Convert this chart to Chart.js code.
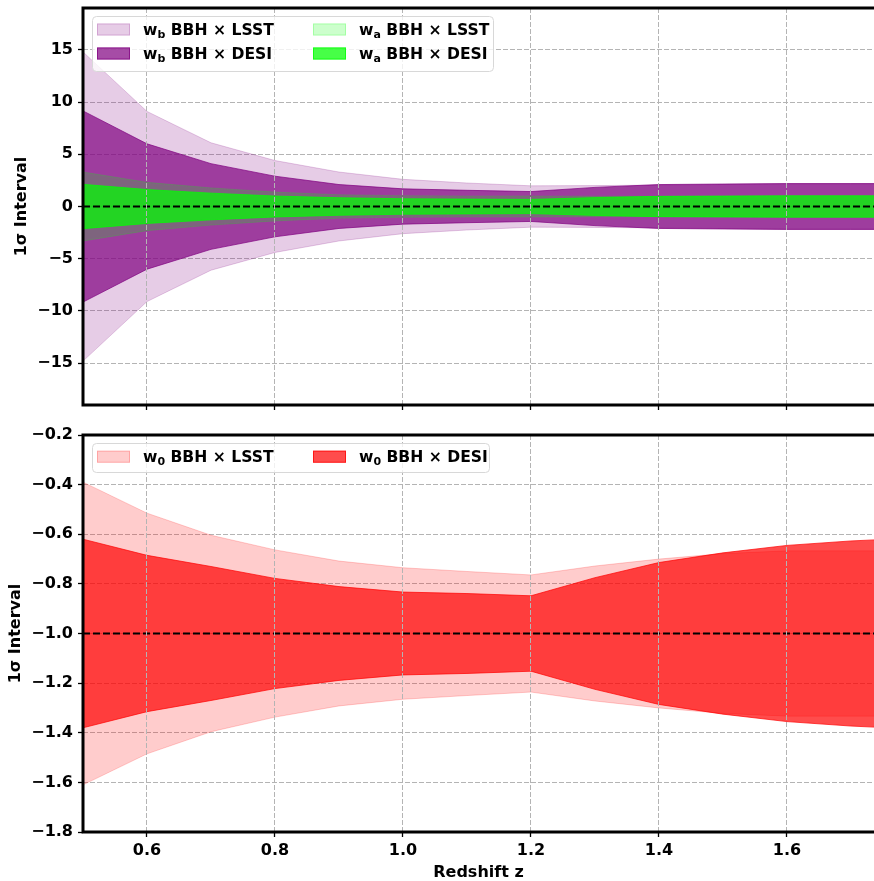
<!DOCTYPE html>
<html>
<head>
<meta charset="utf-8">
<script src="https://cdn.jsdelivr.net/npm/chart.js@4.4.0/dist/chart.umd.min.js"></script>
<style>
  html, body { margin: 0; padding: 0; background: #fff; }
  #wrap { position: relative; width: 874px; height: 881px; overflow: hidden; }
  .panel { position: absolute; left: 0; width: 874px; }
  #topPanel { top: 0; height: 425px; }
  #bottomPanel { top: 425px; height: 456px; }
</style>
</head>
<body>
<div id="wrap">
  <div class="panel" id="topPanel"><canvas id="chartTop" width="874" height="425"></canvas></div>
  <div class="panel" id="bottomPanel"><canvas id="chartBottom" width="874" height="456"></canvas></div>
</div>
<script>
// Data (1-sigma half widths)
const redshift = [0.5, 0.6, 0.7, 0.8, 0.9, 1.0, 1.1, 1.2, 1.3, 1.4, 1.5, 1.6, 1.7, 1.8];

const wbLsstSigma = [14.8, 9.1, 6.1, 4.4, 3.3, 2.6, 2.25, 1.98, 2.0, 2.05, 2.1, 2.12, 2.12, 2.12];
const wbDesiSigma = [9.15, 6.0, 4.1, 2.9, 2.1, 1.69, 1.55, 1.43, 1.83, 2.1, 2.15, 2.2, 2.2, 2.2];
const waLsstSigma = [3.3, 2.31, 1.78, 1.38, 1.12, 1.03, 1.0, 1.0, 0.98, 0.97, 0.97, 0.97, 0.97, 0.97];
const waDesiSigma = [2.12, 1.62, 1.28, 1.0, 0.84, 0.74, 0.71, 0.68, 0.85, 0.97, 1.0, 1.03, 1.03, 1.03];
const topCenter = 0;

const w0LsstSigma = [0.61, 0.485, 0.396, 0.337, 0.292, 0.265, 0.25, 0.236, 0.272, 0.30, 0.322, 0.333, 0.333, 0.333];
const w0DesiSigma = [0.38, 0.315, 0.27, 0.222, 0.189, 0.167, 0.161, 0.152, 0.225, 0.286, 0.325, 0.355, 0.373, 0.385];
const bottomCenter = -1;

// Axes
const xTicks = [0.6, 0.8, 1.0, 1.2, 1.4, 1.6];
const xMin = 0.5, xMax = 1.736;
const topYTicks = [-15, -10, -5, 0, 5, 10, 15];
const topYMin = -19, topYMax = 19;
const bottomYTicks = [-1.8, -1.6, -1.4, -1.2, -1.0, -0.8, -0.6, -0.4, -0.2];
const bottomYMin = -1.8, bottomYMax = -0.2;

// Colours
const PURPLE_LIGHT = 'rgba(128,0,128,0.2)';
const PURPLE = 'rgba(128,0,128,0.7)';
const GREEN_LIGHT = 'rgba(0,255,0,0.2)';
const GREEN = 'rgba(0,255,0,0.72)';
const RED_LIGHT = 'rgba(255,0,0,0.2)';
const RED = 'rgba(255,0,0,0.7)';

Chart.defaults.font.family = "'DejaVu Sans', sans-serif";
Chart.defaults.font.size = 16;
Chart.defaults.font.weight = 'bold';
Chart.defaults.color = '#000';

function minusFmt(v, digits) {
    const s = Math.abs(v).toFixed(digits);
    return (v < 0 && Number(s) !== 0 ? '\u2212' : '') + s;
}

// upper/lower pair, upper filled down to lower
function band(label, center, sigma, color, order) {
    return [
        {
            label: label,
            data: redshift.map((z, i) => ({ x: z, y: center + sigma[i] })),
            fill: '+1',
            backgroundColor: color,
            borderColor: color,
            borderWidth: 1,
            pointRadius: 0,
            order: order
        },
        {
            label: label + ' lower',
            data: redshift.map((z, i) => ({ x: z, y: center - sigma[i] })),
            fill: false,
            borderColor: color,
            borderWidth: 1,
            pointRadius: 0,
            order: order
        }
    ];
}

function fiducial(center) {
    return {
        label: 'fiducial',
        data: [{ x: redshift[0], y: center }, { x: redshift[redshift.length - 1], y: center }],
        borderColor: '#000',
        borderWidth: 2,
        borderDash: [7, 3],
        pointRadius: 0,
        fill: false,
        order: 0
    };
}

// Spines (top, left, bottom; the right side is cut off in the figure)
const spinePlugin = {
    id: 'spines',
    afterDraw(chart) {
        const { ctx, chartArea: a } = chart;
        ctx.save();
        ctx.strokeStyle = '#000';
        ctx.lineWidth = 3;
        ctx.beginPath();
        ctx.moveTo(a.right + 2, a.top);
        ctx.lineTo(a.left, a.top);
        ctx.lineTo(a.left, a.bottom);
        ctx.lineTo(a.right + 2, a.bottom);
        ctx.stroke();
        ctx.restore();
    }
};

// Matplotlib-like legend with subscripts, drawn inside the axes
const bandLegend = {
    id: 'bandLegend',
    afterDraw(chart, args, opts) {
        if (!opts || !opts.items) return;
        const { ctx, chartArea: a } = chart;
        const bx = a.left + opts.offsetX, by = a.top + opts.offsetY;
        ctx.save();
        ctx.beginPath();
        ctx.roundRect(bx + 0.5, by + 0.5, opts.width, opts.height, 4);
        ctx.fillStyle = 'rgba(255,255,255,0.8)';
        ctx.fill();
        ctx.strokeStyle = '#d8d8d8';
        ctx.lineWidth = 1;
        ctx.stroke();

        opts.items.forEach(it => {
            const cx = bx + opts.colX[it.col];
            const cy = by + opts.rowY[it.row];
            ctx.fillStyle = it.color;
            ctx.fillRect(cx + 5, cy - 6, 33, 12);
            ctx.strokeStyle = it.color;
            ctx.lineWidth = 1;
            ctx.strokeRect(cx + 5.5, cy - 5.5, 32, 11);

            ctx.fillStyle = '#000';
            ctx.textBaseline = 'alphabetic';
            ctx.textAlign = 'left';
            let tx = cx + 51;
            const base = cy + 5.5;
            ctx.font = "bold 15.6px 'DejaVu Sans'";
            ctx.fillText(it.base, tx, base);
            tx += ctx.measureText(it.base).width;
            ctx.font = "bold 11px 'DejaVu Sans'";
            ctx.fillText(it.sub, tx, base + 3);
            tx += ctx.measureText(it.sub).width;
            ctx.font = "bold 15.6px 'DejaVu Sans'";
            ctx.fillText(it.rest, tx, base);
        });
        ctx.restore();
    }
};

function axisOptions(yMin, yMax, yTicks, yDigits, showXLabels, yTitlePad) {
    return {
        x: {
            type: 'linear',
            min: xMin,
            max: xMax,
            afterBuildTicks: s => { s.ticks = xTicks.map(v => ({ value: v })); },
            afterFit: s => {
                s.height = showXLabels ? 49 : 20;
                s.paddingLeft = 0; s.paddingRight = 0;
            },
            ticks: {
                padding: 4,
                maxRotation: 0,
                autoSkip: false,
                callback: v => showXLabels ? Number(v).toFixed(1) : ''
            },
            grid: {
                z: 1,
                color: '#b4b4b4',
                lineWidth: 1,
                tickLength: 5,
                tickColor: '#000',
                tickWidth: 1.3
            },
            border: { display: false, dash: [5, 2] },
            title: {
                display: showXLabels,
                text: 'Redshift z',
                font: { size: 16, weight: 'bold' },
                padding: { top: 0, bottom: -1.5 }
            }
        },
        y: {
            type: 'linear',
            min: yMin,
            max: yMax,
            afterBuildTicks: s => { s.ticks = yTicks.map(v => ({ value: v })); },
            afterFit: s => {
                s.width = 83;
                s.paddingTop = 0; s.paddingBottom = 0;
            },
            ticks: {
                padding: 5,
                autoSkip: false,
                callback: v => minusFmt(v, yDigits)
            },
            grid: {
                color: '#b4b4b4',
                lineWidth: 1,
                tickLength: 5,
                tickColor: '#000',
                tickWidth: 1.3
            },
            border: { display: false, dash: [5, 2] },
            title: {
                display: true,
                text: '1\u03c3 Interval',
                font: { size: 16, weight: 'bold' },
                padding: { top: yTitlePad, bottom: 0 }
            }
        }
    };
}

const baseOptions = {
    responsive: false,
    animation: false,
    events: [],
    plugins: {
        legend: { display: false },
        tooltip: { enabled: false }
    }
};

// Top panel: w_b and w_a
new Chart(document.getElementById('chartTop'), {
    type: 'line',
    data: {
        datasets: [
            fiducial(topCenter),
            ...band('wa BBH × DESI', topCenter, waDesiSigma, GREEN, 1),
            ...band('wa BBH × LSST', topCenter, waLsstSigma, GREEN_LIGHT, 2),
            ...band('wb BBH × DESI', topCenter, wbDesiSigma, PURPLE, 3),
            ...band('wb BBH × LSST', topCenter, wbLsstSigma, PURPLE_LIGHT, 4)
        ]
    },
    options: {
        ...baseOptions,
        layout: { padding: { top: 8, left: 0, right: 0, bottom: 0 } },
        scales: axisOptions(topYMin, topYMax, topYTicks, 0, false, 12.4),
        plugins: {
            ...baseOptions.plugins,
            bandLegend: {
                offsetX: 9, offsetY: 8, width: 401, height: 55,
                colX: [0, 216], rowY: [13.5, 37.5],
                items: [
                    { base: 'w', sub: 'b', rest: ' BBH × LSST', color: PURPLE_LIGHT, col: 0, row: 0 },
                    { base: 'w', sub: 'b', rest: ' BBH × DESI', color: PURPLE, col: 0, row: 1 },
                    { base: 'w', sub: 'a', rest: ' BBH × LSST', color: GREEN_LIGHT, col: 1, row: 0 },
                    { base: 'w', sub: 'a', rest: ' BBH × DESI', color: GREEN, col: 1, row: 1 }
                ]
            }
        }
    },
    plugins: [spinePlugin, bandLegend]
});

// Bottom panel: w_0
new Chart(document.getElementById('chartBottom'), {
    type: 'line',
    data: {
        datasets: [
            fiducial(bottomCenter),
            ...band('w0 BBH × DESI', bottomCenter, w0DesiSigma, RED, 1),
            ...band('w0 BBH × LSST', bottomCenter, w0LsstSigma, RED_LIGHT, 2)
        ]
    },
    options: {
        ...baseOptions,
        layout: { padding: { top: 10, left: 0, right: 0, bottom: 0 } },
        scales: axisOptions(bottomYMin, bottomYMax, bottomYTicks, 1, true, 6.4),
        plugins: {
            ...baseOptions.plugins,
            bandLegend: {
                offsetX: 9, offsetY: 8, width: 397, height: 29,
                colX: [0, 216], rowY: [13.7],
                items: [
                    { base: 'w', sub: '0', rest: ' BBH × LSST', color: RED_LIGHT, col: 0, row: 0 },
                    { base: 'w', sub: '0', rest: ' BBH × DESI', color: RED, col: 1, row: 0 }
                ]
            }
        }
    },
    plugins: [spinePlugin, bandLegend]
});
</script>
</body>
</html>
